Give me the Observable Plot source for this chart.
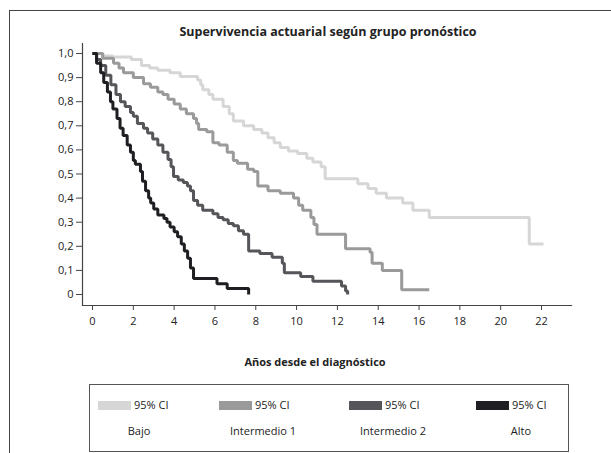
<!DOCTYPE html>
<html>
<head>
<meta charset="utf-8">
<script src="https://cdn.jsdelivr.net/npm/d3@7"></script>
<script src="https://cdn.jsdelivr.net/npm/@observablehq/plot@0.6"></script>
<style>
  body { margin: 0; background: #fff; }
  #wrap { position: relative; width: 611px; height: 453px; overflow: hidden; background: #fff; font-family: "Open Sans", sans-serif; color: #222; }
  #frame { position: absolute; left: 9px; top: 10px; width: 700px; height: 600px; border: 1px solid #444; }
  #chart { position: absolute; left: 0; top: 0; }
  .t { position: absolute; white-space: nowrap; font-size: 11px; line-height: 14px; }
  .title { font-weight: bold; transform: translateX(-50%); }
  .big { font-size: 12.5px; line-height: 16px; }
  #legend { position: absolute; left: 89px; top: 384px; width: 478px; height: 66px; border: 1px solid #555; }
  .sw { position: absolute; width: 33px; height: 9px; }
  .lab { transform: translateX(-50%); }
</style>
</head>
<body>
<div id="wrap">
  <div id="frame"></div>
  <div id="chart"></div>
  <div class="t title big" style="left:328px; top:24px;">Supervivencia actuarial según grupo pronóstico</div>
  <div class="t title" style="left:315px; top:355px;">Años desde el diagnóstico</div>
  <div id="legend"></div>
</div>
<script>
// Groups and colours
const groups = ["Bajo", "Intermedio 1", "Intermedio 2", "Alto"];
const colors = ["#d6d6d6", "#9a9a9a", "#56565a", "#1f1f23"];
const ciLabel = "95% CI";

// Axis ticks
const xTicks = [0, 2, 4, 6, 8, 10, 12, 14, 16, 18, 20, 22];
const yTicks = [0, 0.1, 0.2, 0.3, 0.4, 0.5, 0.6, 0.7, 0.8, 0.9, 1.0];

// Survival curves: time (years) and survival proportion
const bajoT = [0, 0.5, 1.0, 1.9, 2.4, 2.8, 3.2, 3.8, 4.3, 5.15, 5.3, 5.4, 5.7, 5.9, 6.4, 6.7, 6.9, 7.4, 7.9, 8.3, 8.6, 8.9, 9.2, 9.6, 10.05, 10.5, 10.8, 11.2, 11.4, 13.0, 13.5, 13.9, 14.4, 15.2, 15.7, 16.5, 21.4, 22.1];
const bajoS = [1, 0.99, 0.985, 0.975, 0.95, 0.94, 0.93, 0.92, 0.905, 0.89, 0.87, 0.85, 0.83, 0.81, 0.78, 0.75, 0.72, 0.70, 0.685, 0.67, 0.65, 0.63, 0.61, 0.595, 0.585, 0.565, 0.55, 0.53, 0.48, 0.46, 0.44, 0.42, 0.40, 0.38, 0.35, 0.32, 0.21, 0.21];

const int1T = [0, 0.5, 1.03, 1.3, 1.52, 2.0, 2.5, 2.84, 3.2, 3.45, 3.7, 4.0, 4.3, 4.6, 4.95, 5.1, 5.2, 5.6, 5.9, 6.2, 6.6, 6.9, 7.1, 7.6, 7.9, 8.1, 8.6, 9.2, 9.85, 10.1, 10.3, 10.7, 10.85, 11.0, 12.4, 13.6, 13.7, 14.2, 15.15, 16.5];
const int1S = [1, 0.98, 0.96, 0.94, 0.92, 0.90, 0.875, 0.86, 0.84, 0.83, 0.81, 0.79, 0.77, 0.75, 0.73, 0.71, 0.685, 0.675, 0.63, 0.62, 0.59, 0.556, 0.545, 0.52, 0.51, 0.45, 0.43, 0.42, 0.40, 0.37, 0.35, 0.32, 0.29, 0.25, 0.19, 0.175, 0.13, 0.10, 0.02, 0.02];

const int2T = [0, 0.2, 0.4, 0.65, 0.9, 1.15, 1.37, 1.6, 1.86, 2.0, 2.2, 2.5, 2.7, 2.95, 3.2, 3.45, 3.7, 3.85, 3.97, 4.2, 4.45, 4.65, 4.8, 4.95, 5.15, 5.4, 5.9, 6.15, 6.4, 6.65, 6.9, 7.15, 7.4, 7.65, 8.2, 8.8, 9.3, 9.4, 10.2, 10.8, 12.2, 12.4, 12.5];
const int2S = [1, 0.975, 0.95, 0.91, 0.87, 0.83, 0.80, 0.78, 0.755, 0.74, 0.71, 0.69, 0.67, 0.645, 0.62, 0.59, 0.56, 0.53, 0.49, 0.475, 0.465, 0.45, 0.43, 0.39, 0.37, 0.35, 0.335, 0.32, 0.31, 0.295, 0.285, 0.265, 0.25, 0.18, 0.17, 0.155, 0.13, 0.09, 0.075, 0.055, 0.035, 0.015, 0.0];

const altoT = [0, 0.2, 0.4, 0.55, 0.73, 0.88, 1.0, 1.2, 1.35, 1.5, 1.7, 1.86, 2.0, 2.1, 2.35, 2.45, 2.6, 2.75, 2.85, 3.0, 3.2, 3.5, 3.65, 3.8, 4.0, 4.17, 4.35, 4.5, 4.66, 4.8, 4.95, 6.1, 6.6, 7.65];
const altoS = [1, 0.96, 0.92, 0.88, 0.84, 0.80, 0.77, 0.73, 0.69, 0.66, 0.62, 0.59, 0.556, 0.54, 0.51, 0.47, 0.43, 0.40, 0.38, 0.355, 0.33, 0.315, 0.30, 0.28, 0.26, 0.24, 0.21, 0.18, 0.15, 0.11, 0.066, 0.045, 0.025, 0.0];

const series = [[bajoT, bajoS], [int1T, int1S], [int2T, int2S], [altoT, altoS]];
const data = series.flatMap(([T, S], i) => T.map((t, j) => ({group: groups[i], t, s: S[j]})));

const fmtY = d => d === 0 ? "0" : d.toFixed(1).replace(".", ",");

const chart = Plot.plot({
  width: 611,
  height: 453,
  marginLeft: 82,
  marginRight: 40,
  marginTop: 43,
  marginBottom: 148,
  style: {fontFamily: "'Open Sans', sans-serif", fontSize: "11px", color: "#222", background: "transparent", overflow: "visible"},
  x: {domain: [0, 22], range: [92, 541]},
  y: {domain: [0, 1], range: [294, 53]},
  color: {domain: groups, range: colors},
  marks: [
    Plot.frame({anchor: "left", stroke: "#444", strokeWidth: 1.2}),
    Plot.frame({anchor: "bottom", stroke: "#444", strokeWidth: 1.2}),
    Plot.axisY({ticks: yTicks, tickFormat: fmtY, tickSize: 6, tickPadding: 3, stroke: "#444", label: null}),
    Plot.axisX({ticks: xTicks, tickFormat: d => String(d), tickSize: 5, tickPadding: 7, stroke: "#444", label: null}),
    Plot.line(data, {x: "t", y: "s", z: "group", stroke: "group", curve: "step-after", strokeWidth: 3, strokeLinejoin: "miter", strokeLinecap: "butt"})
  ]
});
document.getElementById("chart").appendChild(chart);

// Legend built from the same groups and colours
const legend = document.getElementById("legend");
const swX = [8, 129, 259, 386];
const labX = [49, 173, 303, 431];
groups.forEach((g, i) => {
  const sw = document.createElement("div");
  sw.className = "sw";
  sw.style.left = swX[i] + "px";
  sw.style.top = "16px";
  sw.style.background = colors[i];
  legend.appendChild(sw);
  const ci = document.createElement("div");
  ci.className = "t";
  ci.style.left = (swX[i] + 36) + "px";
  ci.style.top = "13px";
  ci.textContent = ciLabel;
  legend.appendChild(ci);
  const lb = document.createElement("div");
  lb.className = "t lab";
  lb.style.left = labX[i] + "px";
  lb.style.top = "39px";
  lb.textContent = g;
  legend.appendChild(lb);
});
</script>
</body>
</html>
